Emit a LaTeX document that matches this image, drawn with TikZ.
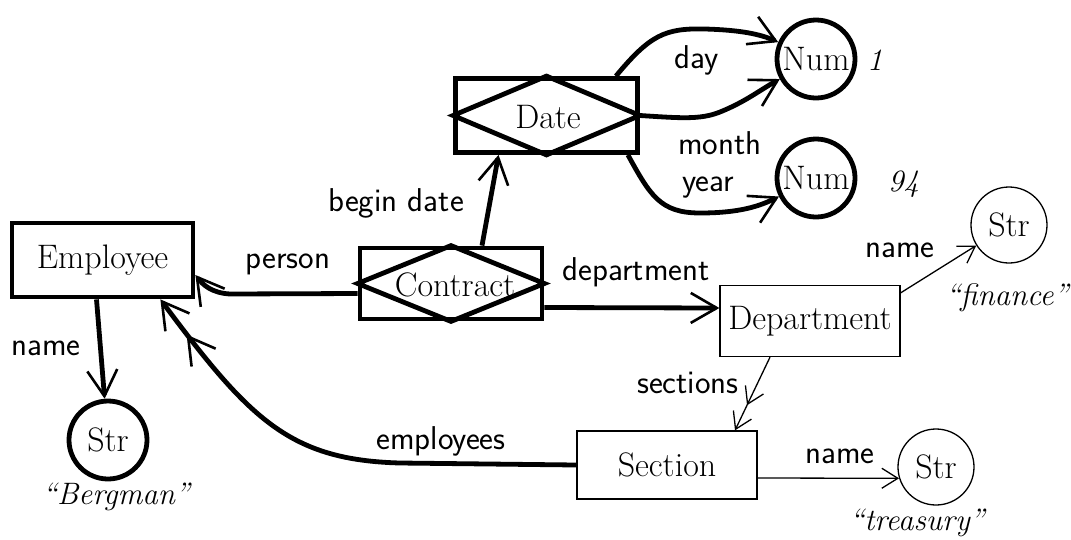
\documentclass[tikz,border=0pt]{standalone}
\usepackage{fontspec}
\usetikzlibrary{arrows.meta}
\begin{document}
\begin{tikzpicture}[x=1pt,y=-1pt,
  serif/.style={font=\fontsize{34}{40}\selectfont},
  lab/.style={font=\sffamily\fontsize{33}{38}\selectfont, inner sep=0pt},
  thickbox/.style={draw, line width=4.8pt, rectangle, inner sep=0pt, serif},
  thinbox/.style={draw, line width=1.3pt, rectangle, inner sep=0pt, serif},
  thickcirc/.style={draw, line width=4.8pt, circle, inner sep=0pt, minimum size=78pt, serif},
  thincirc/.style={draw, line width=1.3pt, circle, inner sep=0pt, minimum size=76pt, serif},
  val/.style={font=\fontsize{31}{36}\selectfont, inner sep=0pt},
  thickedge/.style={line width=4.8pt, -{Straight Barb[length=26pt,width=30pt,line width=2.6pt]}},
  thickedge2/.style={line width=4.8pt, -{Straight Barb[length=26pt,width=30pt,line width=2.6pt,sep=14pt]Straight Barb[length=26pt,width=30pt,line width=2.6pt]}},
  thinedge/.style={line width=1.3pt, -{Straight Barb[length=16pt,width=20pt,line width=1.3pt]}},
  thinedge2/.style={line width=1.3pt, -{Straight Barb[length=16pt,width=20pt,line width=1.3pt,sep=10pt]Straight Barb[length=16pt,width=20pt,line width=1.3pt]}},
]
\useasboundingbox (0,0) rectangle (1071,539);

% nodes
\node[thickbox, minimum width=181pt, minimum height=74pt] (emp) at (102.5,260) {Employee};
\node[thickbox, minimum width=182pt, minimum height=71pt] (con) at (451,283.5) {};
\draw[line width=4.8pt, line join=miter] (con.west) -- (con.north) -- (con.east) -- (con.south) -- cycle;
\node[serif, inner sep=0pt] (contxt) at (455,285) {Contract};
\node[thickbox, minimum width=182pt, minimum height=74pt] (date) at (546.5,115.5) {};
\draw[line width=4.8pt, line join=miter] (date.west) -- (date.north) -- (date.east) -- (date.south) -- cycle;
\node[serif, inner sep=0pt] (datetxt) at (548,117) {Date};

\node[thickcirc] (num1) at (816,59) {Num};
\node[thickcirc] (num2) at (816,178) {Num};
\node[val, anchor=west] (v1) at (867,60) {\textit{1}};
\node[val, anchor=west] (v94) at (888,184) {\textit{94}};

\node[thickcirc] (strb) at (108,440) {Str};
\node[val] (vb) at (117,497) {\textit{``Bergman''}};

\node[thinbox, minimum width=180pt, minimum height=71pt] (dept) at (810,321) {Department};
\node[thinbox, minimum width=180pt, minimum height=68pt] (sec) at (667,465) {Section};

\node[thincirc] (strf) at (1009,225) {Str};
\node[val] (vf) at (1008,298) {\textit{``finance''}};
\node[thincirc] (strt) at (936,467) {Str};
\node[val] (vt) at (918,523) {\textit{``treasury''}};

% coordinates for connector ends
\coordinate (dayS) at ([xshift=-24pt]date.north east);
\coordinate (yearS) at ([xshift=-12pt]date.south east);
\coordinate (bdS) at ([xshift=31pt]con.north);
\coordinate (bdE) at ([xshift=-48pt]date.south);
\coordinate (perS) at ([yshift=-10pt]con.west);
\coordinate (perE) at ([yshift=-15pt]emp.east);
\coordinate (depS) at ([yshift=-24pt]con.east);
\coordinate (depE) at ([yshift=13pt]dept.west);
\coordinate (nmS) at ([xshift=-6pt]emp.south);
\coordinate (empE) at ([xshift=-35pt]emp.south east);
\coordinate (secS) at ([xshift=-40pt]dept.south);
\coordinate (secE) at ([xshift=68pt]sec.north);
\coordinate (dnS) at ([yshift=-8pt]dept.north east);
\coordinate (snS) at ([yshift=-13pt]sec.east);

% connectors
\draw[thickedge] (dayS) .. controls (650,35) and (665,28) .. (705,29) .. controls (740,30) and (760,34) .. (num1);
\draw[thickedge] (date.east) .. controls (680,118) and (700,120) .. (720,112) .. controls (745,102) and (760,90) .. (num1);
\draw[thickedge] (yearS) .. controls (650,195) and (660,213) .. (700,213) .. controls (740,213) and (760,206) .. (num2);
\draw[thickedge] (bdS) -- (bdE);
\draw[thickedge] (perS) -- (230,294) .. controls (212,293) and (203,285) .. (perE);
\draw[thickedge] (depS) -- (depE);
\draw[thickedge] (nmS) -- (strb);
\draw[thickedge2] (sec.west) -- (400,463) .. controls (290,460) and (250,420) .. (empE);
\draw[thinedge2] (secS) -- (secE);
\draw[thinedge] (dnS) -- (strf);
\draw[thinedge] (snS) -- (strt.197);

% labels
\node[lab] (ld) at (697,60) {day};
\node[lab] (lm) at (720,143) {month};
\node[lab] (ly) at (708,188) {year};
\node[lab] (lb) at (396,203) {begin date};
\node[lab] (lp) at (288,264) {person};
\node[lab] (ldep) at (636,272) {department};
\node[lab] (ln1) at (46,348) {name};
\node[lab] (le) at (441,441) {employees};
\node[lab] (ls) at (688,383) {sections};
\node[lab] (ln2) at (900,250) {name};
\node[lab] (ln3) at (840,456) {name};
\end{tikzpicture}
\end{document}
